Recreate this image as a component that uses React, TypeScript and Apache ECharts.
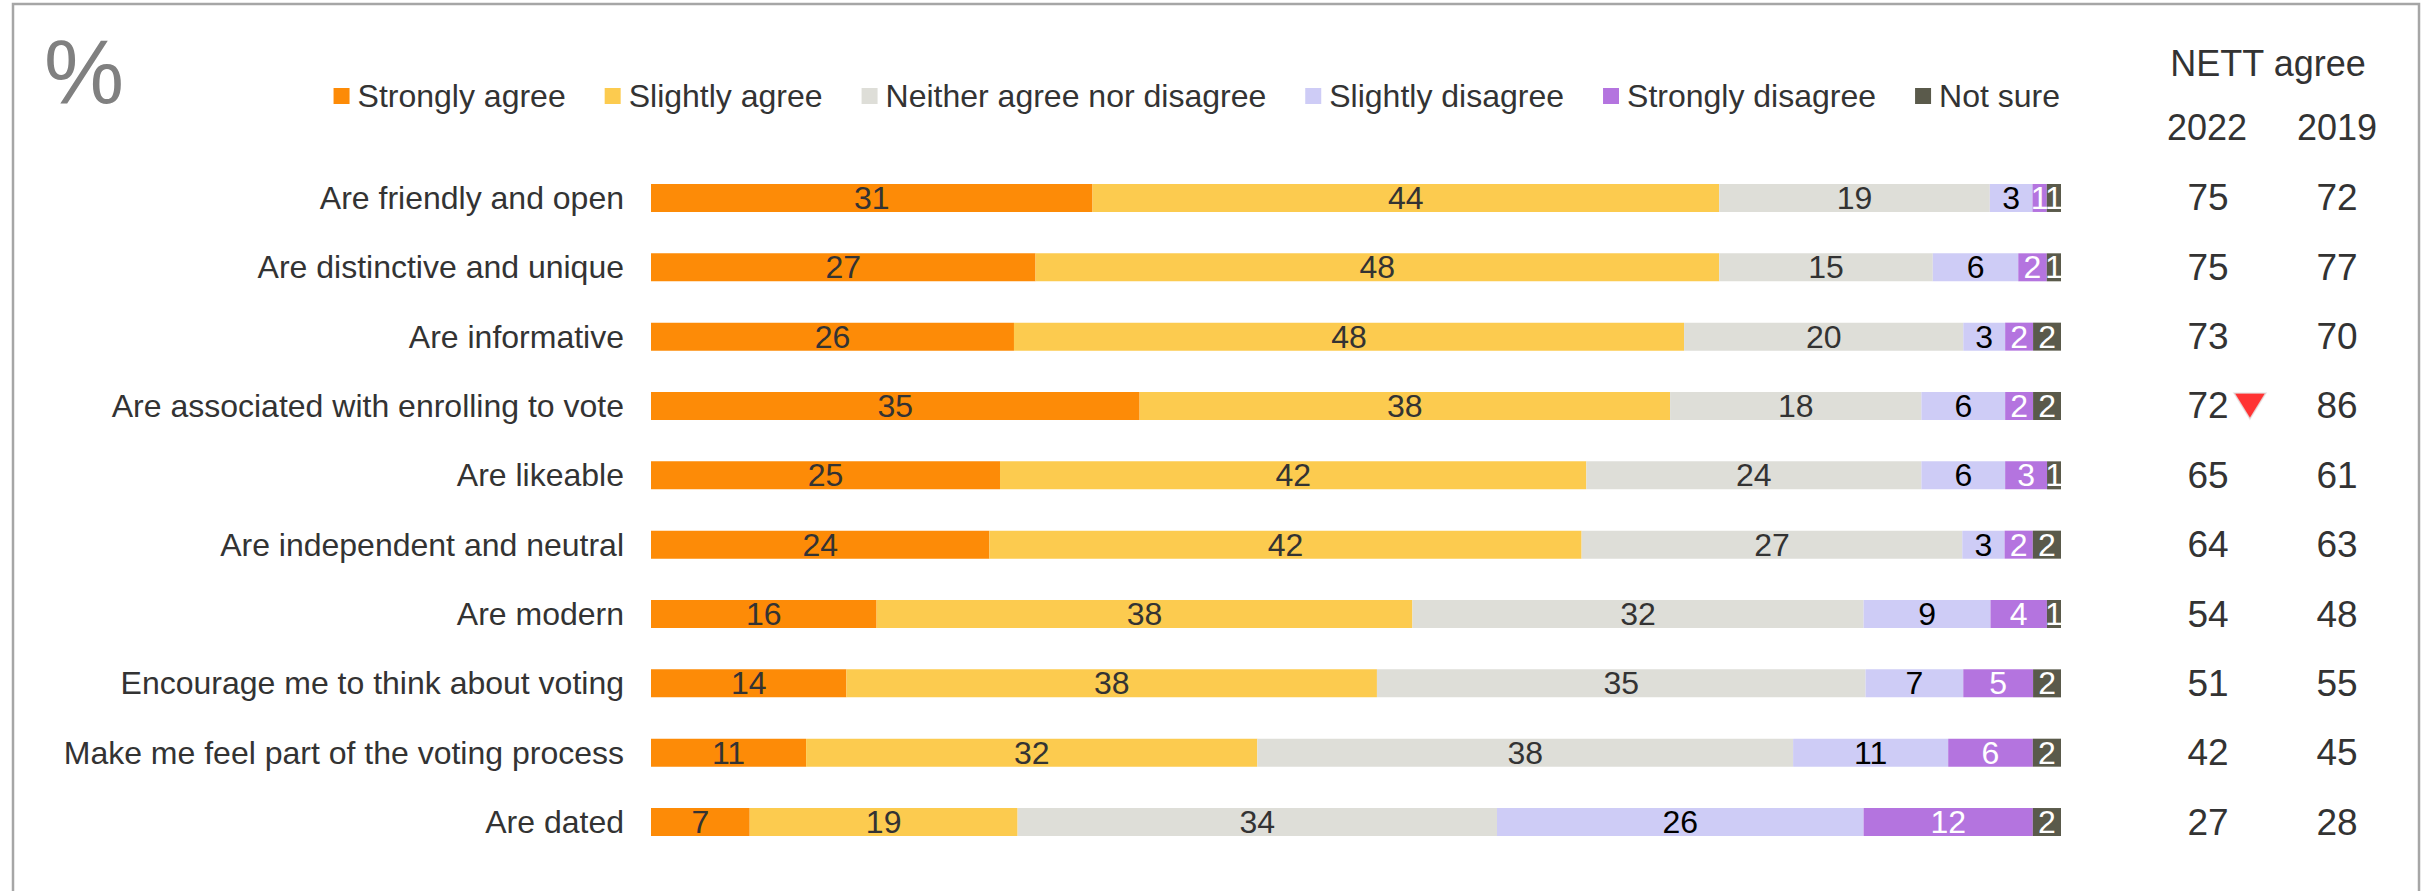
import React, { useEffect, useRef } from "react";
import * as echarts from "echarts";

const categories = [
  "Are friendly and open",
  "Are distinctive and unique",
  "Are informative",
  "Are associated with enrolling to vote",
  "Are likeable",
  "Are independent and neutral",
  "Are modern",
  "Encourage me to think about voting",
  "Make me feel part of the voting process",
  "Are dated",
];

const seriesNames = [
  "Strongly agree",
  "Slightly agree",
  "Neither agree nor disagree",
  "Slightly disagree",
  "Strongly disagree",
  "Not sure",
];

const strongAgree = [31, 27, 26, 35, 25, 24, 16, 14, 11, 7];
const slightAgree = [44, 48, 48, 38, 42, 42, 38, 38, 32, 19];
const neither = [19, 15, 20, 18, 24, 27, 32, 35, 38, 34];
const slightDisagree = [3, 6, 3, 6, 6, 3, 9, 7, 11, 26];
const strongDisagree = [1, 2, 2, 2, 3, 2, 4, 5, 6, 12];
const notSure = [1, 1, 2, 2, 1, 2, 1, 2, 2, 2];

const nett2022 = [75, 75, 73, 72, 65, 64, 54, 51, 42, 27];
const nett2019 = [72, 77, 70, 86, 61, 63, 48, 55, 45, 28];
const significantDrop = [false, false, false, true, false, false, false, false, false, false];

const colors = ["#FD8B07", "#FCCB4F", "#DEDED8", "#CECCF6", "#B474DF", "#5A5A4B"];
const labelColors = ["#333333", "#333333", "#333333", "#000000", "#ffffff", "#ffffff"];

const FONT = "'Liberation Sans', Arial, sans-serif";

export default function App() {
  const ref = useRef<HTMLDivElement>(null);

  useEffect(() => {
    if (!ref.current) return;
    const chart = echarts.init(ref.current, undefined, { renderer: "svg" });
    const all = [strongAgree, slightAgree, neither, slightDisagree, strongDisagree, notSure];
    const totals = categories.map((_, i) => all.reduce((s, arr) => s + arr[i], 0));

    const barSeries = all.map((arr, k) => ({
      name: seriesNames[k],
      type: "bar",
      stack: "total",
      barWidth: 28,
      itemStyle: { color: colors[k] },
      label: {
        show: true,
        position: "inside",
        color: labelColors[k],
        fontSize: 32,
        fontFamily: FONT,
        formatter: (p: any) => String(p.data.raw),
      },
      emphasis: { disabled: true },
      data: arr.map((v, i) => ({ value: (v / totals[i]) * 100, raw: v })),
    }));

    const dropData = significantDrop
      .map((f, i) => (f ? [113.4, i] : null))
      .filter((d) => d !== null);

    chart.setOption({
      animation: false,
      textStyle: { fontFamily: FONT },
      legend: {
        data: seriesNames,
        right: 360,
        top: 75,
        icon: "rect",
        itemWidth: 16,
        itemHeight: 16,
        itemGap: 39,
        selectedMode: false,
        textStyle: { fontSize: 32, color: "#333333", fontFamily: FONT, padding: [0, 0, 0, 3] },
      },
      grid: { left: 651, right: 364, top: 163.3, bottom: 34.3 },
      xAxis: {
        type: "value",
        min: 0,
        max: 100,
        show: false,
      },
      yAxis: [
        {
          type: "category",
          data: categories,
          inverse: true,
          axisLine: { show: false },
          axisTick: { show: false },
          axisLabel: { fontSize: 32, color: "#333333", margin: 27, fontFamily: FONT },
        },
        {
          type: "category",
          data: categories,
          inverse: true,
          position: "right",
          offset: 147,
          axisLine: { show: false },
          axisTick: { show: false },
          axisLabel: {
            fontSize: 37,
            color: "#333333",
            margin: 0,
            align: "center",
            fontFamily: FONT,
            formatter: (_v: string, i: number) => String(nett2022[i]),
          },
        },
        {
          type: "category",
          data: categories,
          inverse: true,
          position: "right",
          offset: 276,
          axisLine: { show: false },
          axisTick: { show: false },
          axisLabel: {
            fontSize: 37,
            color: "#333333",
            margin: 0,
            align: "center",
            fontFamily: FONT,
            formatter: (_v: string, i: number) => String(nett2019[i]),
          },
        },
      ],
      series: [
        ...barSeries,
        {
          name: "drop",
          type: "scatter",
          clip: false,
          symbol: "triangle",
          symbolRotate: 180,
          symbolSize: [32, 26],
          itemStyle: { color: "#FF0000", borderColor: "#e4e4e4", borderWidth: 1.5 },
          emphasis: { disabled: true },
          data: dropData,
        },
      ],
      graphic: [
        {
          type: "rect",
          shape: { x: 13, y: 4, width: 2406, height: 1000 },
          style: { fill: "none", stroke: "#a6a6a6", lineWidth: 2.5 },
          silent: true,
        },
        {
          type: "text",
          x: 44,
          y: 72,
          style: {
            text: "%",
            fontSize: 90,
            fontFamily: FONT,
            fill: "#808080",
            textVerticalAlign: "middle",
          },
        },
        {
          type: "text",
          x: 2268,
          y: 63,
          style: {
            text: "NETT agree",
            fontSize: 36,
            fontFamily: FONT,
            fill: "#333333",
            textAlign: "center",
            textVerticalAlign: "middle",
          },
        },
        {
          type: "text",
          x: 2207,
          y: 127,
          style: {
            text: "2022",
            fontSize: 36,
            fontFamily: FONT,
            fill: "#333333",
            textAlign: "center",
            textVerticalAlign: "middle",
          },
        },
        {
          type: "text",
          x: 2337,
          y: 127,
          style: {
            text: "2019",
            fontSize: 36,
            fontFamily: FONT,
            fill: "#333333",
            textAlign: "center",
            textVerticalAlign: "middle",
          },
        },
      ],
    });

    return () => chart.dispose();
  }, []);

  return (
    <div
      ref={ref}
      style={{ position: "absolute", left: 0, top: 0, width: 2425, height: 891, background: "#ffffff" }}
    />
  );
}
